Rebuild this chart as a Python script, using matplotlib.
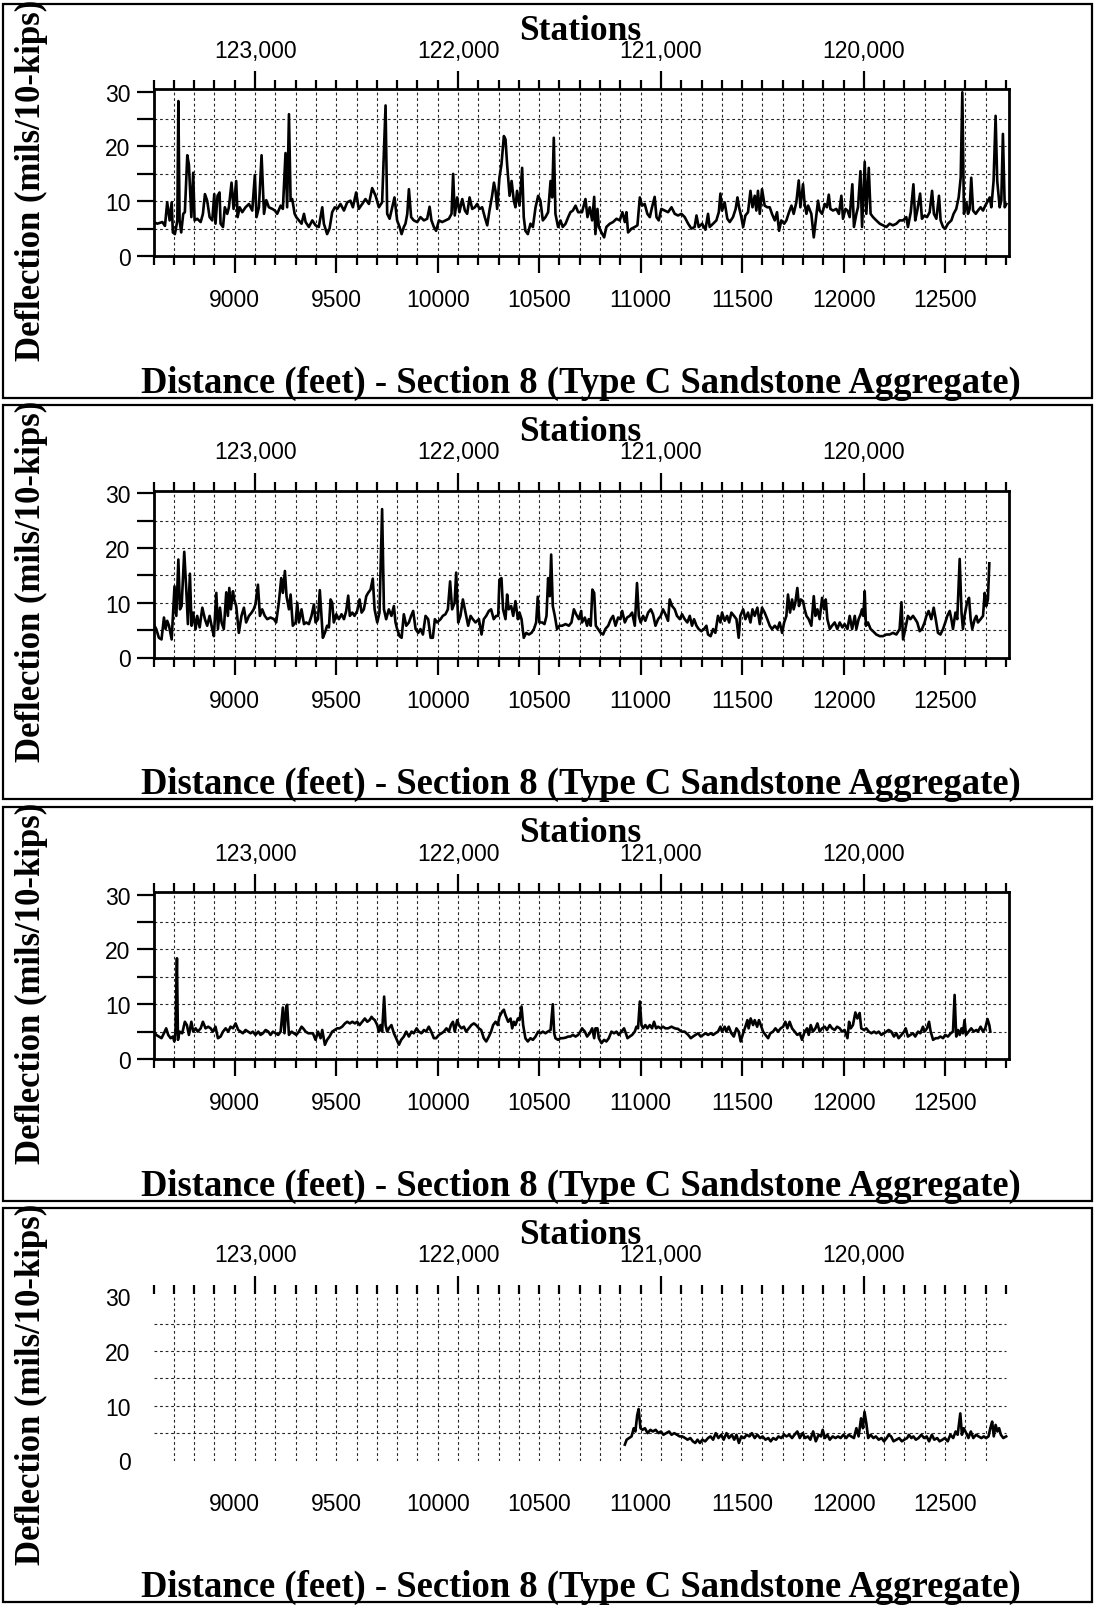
import numpy as np
import matplotlib
matplotlib.use("Agg")
import matplotlib.pyplot as plt
from matplotlib.ticker import MultipleLocator, FuncFormatter
from matplotlib.patches import Rectangle

W, H, DPI = 1094, 1606, 100
STATION_ZERO = 132100          # station = STATION_ZERO - distance
X_MIN, X_MAX = 8600, 12815
Y_MAX = 30.5

# ---- panel 1 ----
dist_1 = [
    8600, 8618, 8643, 8656, 8667, 8679, 8689, 8695, 8705, 8717,
    8722, 8728, 8736, 8746, 8754, 8766, 8774, 8786, 8795, 8802,
    8815, 8832, 8843, 8853, 8864, 8876, 8889, 8899, 8905, 8915,
    8925, 8930, 8942, 8951, 8963, 8971, 8984, 8994, 9007, 9014,
    9024, 9037, 9053, 9070, 9086, 9099, 9107, 9119, 9132, 9144,
    9155, 9168, 9185, 9198, 9209, 9226, 9237, 9250, 9258, 9267,
    9275, 9283, 9295, 9303, 9316, 9329, 9341, 9349, 9365, 9382,
    9398, 9414, 9431, 9439, 9455, 9467, 9480, 9493, 9505, 9521,
    9538, 9554, 9570, 9582, 9598, 9611, 9628, 9644, 9661, 9677,
    9694, 9710, 9726, 9743, 9751, 9763, 9776, 9787, 9800, 9812,
    9822, 9833, 9841, 9850, 9858, 9869, 9882, 9899, 9915, 9932,
    9948, 9960, 9969, 9981, 9992, 10006, 10022, 10038, 10055, 10068,
    10076, 10084, 10096, 10107, 10121, 10134, 10145, 10157, 10170, 10183,
    10194, 10206, 10219, 10232, 10244, 10255, 10268, 10277, 10285, 10293,
    10304, 10314, 10326, 10334, 10342, 10354, 10364, 10375, 10383, 10391,
    10403, 10416, 10424, 10432, 10444, 10457, 10469, 10482, 10495, 10506,
    10518, 10531, 10544, 10556, 10564, 10572, 10580, 10593, 10605, 10616,
    10630, 10643, 10654, 10666, 10679, 10692, 10711,
    10728, 10738, 10749, 10761, 10771, 10777, 10787, 10794, 10807, 10820,
    10831, 10848, 10864, 10881, 10897, 10910, 10922, 10930, 10938, 10955,
    10971, 10984, 10996, 11007, 11020, 11033, 11045, 11056, 11069, 11078,
    11089, 11102, 11119, 11135, 11152, 11168, 11184, 11201, 11217, 11234,
    11250, 11266, 11275, 11286, 11303, 11319, 11332, 11340, 11357, 11373,
    11385, 11393, 11401, 11414, 11427, 11439, 11455, 11468, 11477, 11485,
    11496, 11505, 11516, 11529, 11541, 11551, 11562, 11570, 11578, 11587,
    11598, 11611, 11624, 11636, 11647, 11661, 11672, 11682, 11693, 11707,
    11718, 11731, 11743, 11754, 11767, 11779, 11787, 11800, 11808, 11817,
    11825, 11841, 11853, 11861, 11874, 11882, 11894, 11907, 11918, 11927,
    11935, 11948, 11964, 11977, 11989, 11997, 12009, 12019, 12030, 12043,
    12051, 12063, 12071, 12083, 12091, 12104, 12112, 12124, 12133, 12145,
    12161, 12178, 12194, 12211, 12227, 12243, 12260, 12276, 12293, 12309,
    12317, 12331, 12344, 12353, 12363, 12377, 12386, 12399, 12411, 12424,
    12436, 12445, 12457, 12470, 12478, 12490, 12501, 12514, 12531, 12542,
    12555, 12567, 12577, 12585, 12593, 12605, 12613, 12621, 12629, 12638,
    12651, 12662, 12675, 12687, 12698, 12711, 12720, 12728, 12739, 12749,
    12757, 12769, 12777, 12785, 12794, 12802,
]
defl_1 = [
    6.2, 5.9, 6.2, 5.5, 9.8, 6.5, 9.8, 4.3, 4.0, 6.5,
    28.3, 6.5, 4.3, 7.7, 8.0, 18.4, 16.7, 7.1, 15.2, 6.5,
    6.8, 6.2, 7.7, 11.3, 10.1, 7.1, 6.5, 11.3, 5.9, 11.0,
    11.6, 5.9, 5.3, 8.9, 7.7, 8.9, 13.4, 8.6, 13.7, 7.1,
    8.9, 8.0, 8.9, 9.5, 8.3, 14.8, 7.1, 8.9, 18.4, 7.7,
    10.2, 8.9, 8.6, 8.3, 7.7, 9.2, 8.6, 18.8, 8.9, 25.9,
    10.1, 10.4, 7.7, 7.1, 6.5, 5.9, 7.7, 6.2, 5.3, 6.5,
    5.6, 5.3, 8.9, 5.9, 4.0, 5.0, 8.0, 8.9, 8.6, 9.5,
    8.3, 9.8, 10.1, 8.9, 11.6, 8.6, 9.5, 10.4, 9.5, 12.4,
    11.0, 8.9, 9.8, 27.5, 7.7, 6.8, 8.9, 10.7, 6.5, 5.3,
    4.0, 5.3, 5.9, 7.7, 12.2, 7.1, 6.5, 6.2, 7.1, 6.5,
    6.8, 9.0, 6.5, 5.3, 4.6, 6.5, 6.2, 6.5, 6.8, 7.7,
    15.0, 7.4, 10.7, 8.0, 10.4, 8.3, 7.7, 10.7, 8.6, 8.9,
    9.5, 8.6, 8.9, 7.1, 5.6, 8.3, 11.0, 13.4, 11.9, 8.6,
    14.3, 16.7, 21.9, 21.3, 16.7, 11.0, 13.7, 10.1, 8.9, 11.9,
    9.2, 16.1, 7.1, 4.6, 4.0, 5.9, 5.3, 8.9, 11.0, 10.1,
    6.5, 7.1, 8.0, 13.7, 10.7, 21.6, 7.7, 5.3, 6.5, 5.3,
    5.9, 7.1, 8.0, 8.3, 9.2, 8.0, 8.0,
    10.4, 7.1, 8.9, 6.5, 10.8, 4.0, 8.6, 5.3, 4.3, 3.4,
    5.3, 5.9, 6.2, 6.8, 6.5, 8.0, 6.2, 8.0, 4.3, 5.0,
    5.3, 5.6, 10.7, 9.2, 9.5, 7.7, 7.1, 8.9, 10.8, 7.1,
    6.5, 8.6, 8.3, 8.0, 8.9, 7.7, 7.4, 7.7, 7.1, 5.9,
    5.0, 5.3, 7.4, 5.3, 5.9, 4.8, 7.7, 5.3, 5.9, 6.5,
    8.0, 11.4, 8.3, 9.8, 6.8, 6.2, 7.1, 8.6, 10.7, 8.9,
    7.1, 5.3, 7.4, 8.0, 11.9, 8.9, 11.0, 8.3, 11.9, 7.7,
    12.2, 9.2, 8.9, 8.9, 7.7, 6.5, 8.0, 4.6, 6.5, 5.9,
    6.5, 8.0, 9.2, 7.7, 9.8, 13.8, 8.9, 13.1, 9.5, 7.7,
    9.2, 7.7, 3.4, 5.9, 10.1, 8.3, 7.7, 9.5, 8.9, 11.2,
    8.6, 8.3, 8.6, 7.7, 11.0, 6.8, 8.6, 8.3, 7.1, 13.1,
    5.3, 7.7, 8.9, 15.5, 5.3, 17.2, 7.7, 16.1, 7.7, 7.1,
    6.5, 5.9, 5.6, 5.3, 5.9, 5.6, 5.9, 6.5, 6.5, 7.1,
    5.3, 8.0, 13.1, 6.5, 8.3, 11.4, 6.8, 7.4, 7.1, 8.0,
    11.9, 7.7, 6.8, 11.0, 6.5, 5.3, 5.0, 5.9, 6.5, 7.7,
    8.6, 10.7, 14.3, 29.9, 7.7, 9.8, 7.7, 8.6, 14.3, 8.3,
    7.7, 8.3, 8.9, 8.3, 9.2, 10.1, 10.7, 8.9, 13.7, 25.6,
    13.7, 8.9, 10.1, 22.3, 8.9, 9.5,
]

# ---- panel 2 ----
dist_2 = [
    8600, 8613, 8626, 8639, 8651, 8659, 8667, 8676, 8689, 8695,
    8703, 8712, 8722, 8730, 8738, 8751, 8761, 8769, 8779, 8787,
    8795, 8807, 8815, 8827, 8840, 8853, 8864, 8876, 8889, 8897,
    8909, 8917, 8927, 8935, 8946, 8958, 8966, 8973, 8981, 8991,
    8997, 9007, 9020, 9033, 9045, 9056, 9070, 9083, 9093, 9102,
    9114, 9124, 9135, 9148, 9160, 9176, 9193, 9204, 9217, 9229,
    9237, 9247, 9255, 9267, 9275, 9286, 9300, 9308, 9316, 9329,
    9341, 9352, 9365, 9378, 9390, 9398, 9410, 9419, 9428, 9434,
    9444, 9455, 9464, 9472, 9480, 9488, 9500, 9513, 9526, 9538,
    9549, 9559, 9567, 9579, 9590, 9603, 9615, 9625, 9636, 9648,
    9657, 9669, 9680, 9689, 9702, 9713, 9726, 9735, 9746, 9759,
    9772, 9784, 9792, 9800, 9812, 9822, 9833, 9845, 9858, 9869,
    9879, 9891, 9904, 9915, 9927, 9940, 9953, 9965, 9976, 9986,
    9997, 10014, 10025, 10038, 10050, 10061, 10071, 10083, 10091, 10101,
    10112, 10124, 10137, 10150, 10162, 10173, 10186, 10203, 10216, 10227,
    10239, 10252, 10263, 10276, 10288, 10298, 10304, 10314, 10322, 10334,
    10342, 10350, 10362, 10372, 10383, 10395, 10403, 10413, 10424, 10436,
    10449, 10462, 10474, 10485, 10493, 10501, 10515, 10526, 10536, 10544,
    10552, 10559, 10567, 10577, 10588, 10600, 10613, 10630, 10646, 10659,
    10671, 10682, 10695, 10707,
    10711, 10725, 10736, 10744, 10754, 10762, 10771, 10779, 10790, 10803,
    10815, 10826, 10840, 10853, 10864, 10876, 10889, 10900, 10909, 10922,
    10933, 10946, 10958, 10971, 10982, 10991, 11000, 11012, 11023, 11037,
    11050, 11061, 11073, 11086, 11099, 11110, 11122, 11135, 11143, 11155,
    11168, 11179, 11193, 11204, 11217, 11230, 11242, 11253, 11263, 11275,
    11286, 11299, 11312, 11324, 11332, 11345, 11357, 11368, 11381, 11393,
    11401, 11414, 11426, 11436, 11447, 11460, 11472, 11483, 11491, 11505,
    11516, 11529, 11541, 11551, 11562, 11575, 11587, 11598, 11611, 11624,
    11636, 11647, 11661, 11674, 11685, 11697, 11707, 11718, 11726, 11736,
    11746, 11754, 11762, 11772, 11780, 11789, 11800, 11808, 11817, 11828,
    11841, 11853, 11861, 11871, 11882, 11894, 11904, 11912, 11920, 11932,
    11943, 11956, 11969, 11981, 11994, 12005, 12019, 12030, 12042, 12055,
    12063, 12074, 12084, 12091, 12097, 12104, 12110, 12120, 12133, 12145,
    12161, 12178, 12194, 12211, 12227, 12243, 12260, 12276, 12285, 12293,
    12304, 12317, 12329, 12342, 12353, 12363, 12375, 12386, 12399, 12408,
    12419, 12432, 12444, 12454, 12465, 12477, 12490, 12501, 12511, 12523,
    12531, 12539, 12551, 12560, 12572, 12581, 12588, 12596, 12608, 12618,
    12626, 12634, 12646, 12654, 12662, 12675, 12687, 12695, 12703, 12711,
    12718,
]
defl_2 = [
    6.1, 5.2, 3.6, 3.3, 7.3, 5.2, 6.7, 5.8, 3.3, 7.6,
    13.0, 7.6, 17.9, 8.8, 9.4, 19.3, 12.4, 6.1, 15.3, 5.8,
    8.2, 5.2, 7.6, 5.5, 9.1, 7.0, 5.8, 7.6, 5.2, 3.9,
    11.8, 5.2, 9.1, 6.4, 5.2, 11.9, 7.6, 12.7, 8.8, 12.1,
    10.6, 9.4, 4.5, 7.6, 9.1, 6.4, 7.6, 8.2, 8.8, 9.7,
    13.3, 7.6, 8.8, 7.6, 7.0, 7.3, 7.0, 6.4, 10.0, 14.5,
    11.8, 15.8, 11.2, 8.8, 11.5, 5.8, 6.4, 10.0, 6.4, 8.8,
    6.1, 6.4, 6.1, 7.6, 9.7, 6.4, 7.0, 12.3, 7.0, 3.6,
    4.5, 5.8, 5.5, 10.6, 10.0, 6.4, 7.9, 7.0, 7.9, 7.0,
    8.5, 11.3, 7.6, 8.2, 7.6, 8.5, 10.6, 8.2, 8.8, 11.2,
    11.8, 12.4, 14.4, 8.8, 6.4, 8.2, 27.1, 8.8, 7.0, 8.8,
    7.6, 9.4, 6.4, 5.2, 3.9, 3.6, 7.9, 5.8, 6.4, 7.6,
    8.5, 5.2, 4.5, 5.2, 4.2, 7.6, 7.0, 3.6, 3.6, 7.0,
    6.4, 7.0, 7.6, 7.9, 8.8, 13.9, 8.8, 10.0, 15.5, 6.4,
    7.6, 10.6, 8.2, 5.8, 7.6, 7.0, 6.4, 7.0, 4.2, 7.0,
    7.6, 8.5, 8.8, 7.0, 7.6, 7.6, 14.2, 14.5, 8.8, 7.0,
    11.5, 8.8, 9.4, 7.6, 10.3, 7.0, 8.2, 7.0, 3.6, 4.5,
    4.2, 4.5, 5.2, 6.4, 11.1, 6.4, 6.4, 6.1, 7.6, 14.5,
    11.2, 18.8, 9.4, 7.6, 5.2, 5.8, 5.8, 6.1, 5.8, 6.4,
    8.8, 7.9, 7.0, 8.5,
    6.4, 7.3, 5.8, 7.0, 5.8, 12.4, 11.8, 5.8, 5.2, 4.5,
    4.2, 5.2, 5.8, 7.0, 7.6, 5.8, 7.3, 7.0, 8.5, 6.4,
    7.3, 7.6, 8.2, 5.8, 13.6, 7.6, 6.4, 7.6, 6.7, 8.2,
    8.8, 7.9, 5.8, 7.0, 7.6, 8.8, 7.9, 6.7, 10.6, 9.4,
    8.8, 7.6, 7.0, 7.9, 7.0, 6.4, 7.6, 5.8, 7.0, 5.8,
    5.2, 4.8, 5.2, 5.8, 4.2, 3.9, 5.2, 4.5, 7.6, 6.4,
    8.2, 6.7, 7.6, 6.4, 8.2, 7.6, 7.0, 3.6, 7.6, 8.8,
    7.0, 8.2, 6.4, 8.8, 7.6, 9.1, 6.1, 9.1, 8.2, 7.0,
    5.8, 5.2, 5.8, 5.2, 6.4, 4.5, 6.4, 7.6, 11.5, 8.2,
    10.6, 8.8, 10.0, 12.7, 9.4, 10.6, 10.3, 8.8, 7.6, 7.0,
    5.8, 11.2, 7.6, 8.8, 7.0, 10.9, 8.8, 10.6, 7.0, 5.2,
    5.8, 6.4, 5.2, 6.4, 5.5, 6.1, 5.2, 7.6, 5.2, 7.6,
    5.2, 7.0, 7.9, 8.8, 7.6, 12.1, 5.8, 6.4, 5.2, 4.8,
    4.2, 3.9, 3.9, 4.2, 4.2, 4.5, 4.2, 5.2, 10.1, 3.3,
    5.2, 7.6, 7.0, 7.6, 7.0, 6.4, 4.8, 5.2, 6.4, 7.6,
    8.5, 7.0, 9.1, 7.0, 4.5, 4.2, 5.2, 6.4, 7.6, 8.5,
    7.0, 5.2, 8.2, 7.0, 18.0, 8.2, 5.2, 7.6, 10.0, 10.9,
    7.0, 5.2, 7.0, 7.6, 6.4, 7.0, 7.6, 11.8, 9.4, 10.6,
    17.2,
]

# ---- panel 3 ----
dist_3 = [
    8600, 8613, 8626, 8639, 8651, 8662, 8672, 8684, 8695, 8702,
    8708, 8715, 8720, 8728, 8741, 8754, 8764, 8774, 8786, 8795,
    8807, 8818, 8832, 8843, 8856, 8869, 8881, 8892, 8905, 8917,
    8930, 8942, 8955, 8968, 8979, 8991, 9004, 9017, 9029, 9040,
    9053, 9066, 9078, 9089, 9102, 9116, 9127, 9139, 9152, 9165,
    9176, 9188, 9201, 9214, 9226, 9237, 9245, 9254, 9258, 9267,
    9280, 9291, 9303, 9316, 9329, 9337, 9349, 9362, 9373, 9385,
    9398, 9410, 9423, 9431, 9444, 9455, 9467, 9480, 9493, 9505,
    9516, 9529, 9543, 9554, 9567, 9579, 9592, 9603, 9615, 9628,
    9641, 9653, 9664, 9674, 9680, 9690, 9702, 9710, 9718, 9726,
    9736, 9743, 9751, 9759, 9772, 9784, 9795, 9809, 9820, 9833,
    9845, 9858, 9871, 9882, 9896, 9907, 9920, 9932, 9943, 9956,
    9968, 9981, 9992, 10006, 10019, 10030, 10043, 10055, 10065, 10075,
    10084, 10096, 10104, 10117, 10129, 10140, 10153, 10166, 10178, 10189,
    10203, 10214, 10227, 10239, 10252, 10263, 10273, 10285, 10296, 10304,
    10318, 10326, 10334, 10347, 10359, 10367, 10375, 10383, 10395, 10403,
    10413, 10421, 10432, 10444, 10457, 10469, 10482, 10495, 10506, 10518,
    10531, 10542, 10556, 10567, 10574, 10580, 10593, 10605, 10616, 10630,
    10643, 10654, 10666, 10679, 10692, 10703,
    10711, 10725, 10736, 10749, 10761, 10771, 10777, 10787, 10794, 10807,
    10820, 10831, 10843, 10856, 10869, 10881, 10892, 10905, 10918, 10927,
    10935, 10946, 10958, 10971, 10979, 10987, 10996, 11004, 11012, 11023,
    11033, 11045, 11056, 11066, 11076, 11086, 11099, 11110, 11122, 11135,
    11152, 11168, 11184, 11201, 11217, 11234, 11247, 11258, 11270, 11283,
    11296, 11308, 11319, 11332, 11345, 11357, 11368, 11381, 11393, 11401,
    11414, 11422, 11434, 11447, 11459, 11472, 11483, 11493, 11505, 11516,
    11526, 11532, 11542, 11554, 11562, 11574, 11583, 11592, 11603, 11615,
    11628, 11639, 11652, 11664, 11677, 11690, 11702, 11713, 11723, 11734,
    11746, 11759, 11772, 11784, 11795, 11808, 11820, 11828, 11838, 11849,
    11861, 11871, 11882, 11894, 11907, 11918, 11932, 11943, 11956, 11968,
    11981, 11992, 12005, 12019, 12027, 12035, 12046, 12058, 12068, 12079,
    12087, 12101, 12112, 12124, 12137, 12150, 12161, 12173, 12186, 12199,
    12211, 12222, 12235, 12248, 12260, 12271, 12285, 12298, 12306, 12317,
    12330, 12342, 12353, 12367, 12378, 12391, 12399, 12411, 12421, 12429,
    12441, 12454, 12465, 12477, 12490, 12501, 12514, 12528, 12539, 12547,
    12555, 12564, 12572, 12581, 12588, 12596, 12603, 12616, 12629, 12641,
    12654, 12662, 12675, 12687, 12698, 12709, 12718, 12723,
]
defl_3 = [
    5.0, 4.4, 4.1, 3.8, 4.7, 5.6, 4.4, 3.8, 4.1, 3.2,
    5.0, 18.4, 3.5, 5.0, 4.7, 6.8, 6.2, 4.4, 6.8, 5.0,
    5.6, 5.0, 5.6, 6.8, 5.6, 5.9, 5.6, 5.0, 5.9, 3.8,
    4.1, 5.0, 5.6, 5.0, 5.9, 5.6, 6.5, 5.3, 5.0, 4.7,
    5.3, 5.0, 4.7, 5.0, 4.4, 5.0, 4.4, 4.7, 5.3, 5.0,
    4.4, 5.0, 4.7, 4.4, 5.0, 9.4, 4.7, 9.6, 9.9, 4.4,
    5.0, 4.7, 4.4, 5.0, 5.9, 5.6, 5.0, 4.7, 4.7, 4.7,
    3.5, 5.0, 3.8, 5.3, 2.6, 3.5, 4.1, 5.0, 5.3, 5.6,
    5.6, 5.9, 6.5, 6.8, 6.5, 6.8, 6.5, 6.8, 6.2, 6.8,
    7.4, 6.8, 7.1, 7.7, 7.4, 7.1, 6.2, 5.0, 6.2, 5.0,
    11.4, 6.2, 5.0, 5.6, 6.2, 4.7, 3.8, 2.6, 3.5, 4.1,
    5.0, 4.1, 5.0, 4.7, 5.6, 5.0, 4.7, 5.3, 5.0, 5.9,
    5.0, 3.8, 3.8, 4.4, 4.7, 5.0, 5.6, 5.0, 6.2, 6.8,
    5.0, 7.1, 6.2, 5.6, 5.9, 5.0, 5.6, 6.2, 6.5, 6.2,
    5.6, 5.3, 3.8, 3.2, 4.1, 5.0, 6.2, 6.8, 6.2, 7.7,
    8.7, 9.0, 8.0, 6.8, 7.4, 5.6, 6.8, 6.2, 7.4, 7.1,
    9.6, 6.2, 3.8, 3.2, 3.8, 3.5, 4.1, 5.0, 4.7, 5.0,
    4.7, 5.0, 5.3, 10.0, 4.7, 3.8, 3.5, 3.8, 3.8, 3.9,
    4.1, 4.1, 4.4, 4.1, 4.4, 5.0,
    5.6, 5.0, 4.1, 4.7, 5.6, 3.8, 5.6, 5.6, 3.8, 2.9,
    3.5, 3.2, 3.8, 5.0, 4.7, 5.0, 4.4, 5.0, 5.6, 4.7,
    3.8, 4.1, 4.4, 5.0, 5.9, 5.6, 10.5, 6.2, 5.6, 6.2,
    5.6, 6.2, 5.6, 6.8, 5.6, 5.9, 5.6, 5.9, 5.6, 5.6,
    5.9, 5.6, 5.5, 5.0, 5.0, 4.4, 3.8, 4.1, 4.4, 4.7,
    4.1, 4.4, 4.7, 4.4, 4.7, 4.4, 4.7, 5.0, 5.9, 5.0,
    5.9, 5.0, 5.9, 4.7, 4.1, 5.6, 5.0, 3.2, 4.7, 5.9,
    7.1, 5.6, 7.4, 6.2, 7.1, 5.9, 7.1, 6.2, 5.0, 4.4,
    3.8, 4.7, 5.0, 5.6, 5.0, 5.6, 5.9, 6.8, 5.6, 6.8,
    5.6, 5.0, 4.4, 4.7, 3.5, 5.0, 5.6, 4.4, 6.2, 5.0,
    5.6, 6.5, 5.0, 5.6, 5.9, 5.3, 6.2, 5.6, 5.3, 5.9,
    5.6, 5.0, 5.3, 3.8, 6.8, 5.6, 6.2, 8.5, 7.4, 8.4,
    5.6, 5.3, 5.6, 5.0, 4.7, 5.0, 4.7, 5.0, 4.4, 4.7,
    5.0, 5.3, 5.0, 4.1, 4.7, 3.8, 4.4, 5.0, 5.6, 4.1,
    4.4, 4.7, 4.1, 5.0, 4.7, 5.9, 5.0, 5.6, 6.8, 5.0,
    3.5, 3.8, 3.8, 4.1, 3.8, 4.4, 4.1, 4.7, 5.0, 11.7,
    4.1, 5.3, 4.4, 5.6, 4.7, 7.1, 4.4, 5.0, 5.6, 5.0,
    5.3, 5.0, 5.9, 5.0, 5.6, 7.3, 6.2, 5.0,
]

# ---- panel 4 ----
dist_4 = [
    10922, 10931, 10943, 10955, 10966, 10974, 10983, 10990, 10999, 11009,
    11021, 11034, 11048, 11060, 11074, 11088, 11100, 11112, 11126, 11140,
    11152, 11166, 11179, 11192, 11205, 11219, 11231, 11245, 11257, 11269,
    11280, 11292, 11304, 11318, 11332, 11344, 11357, 11370, 11383, 11397,
    11409, 11423, 11435, 11449, 11461, 11472, 11484, 11496, 11510, 11522,
    11536, 11548, 11562, 11575, 11589, 11601, 11615, 11629, 11641, 11653,
    11667, 11679, 11693, 11706, 11719, 11732, 11746, 11758, 11772, 11784,
    11798, 11810, 11824, 11836, 11850, 11863, 11877, 11889, 11897, 11908,
    11920, 11932, 11946, 11960, 11973, 11985, 11999, 12013, 12025, 12037,
    12051, 12063, 12074, 12086, 12095, 12103, 12112, 12121, 12133, 12147,
    12159, 12173, 12187, 12199, 12212, 12222, 12234, 12246, 12260, 12274,
    12287, 12299, 12313, 12322, 12334, 12344, 12356, 12369, 12383, 12397,
    12409, 12421, 12435, 12447, 12461, 12473, 12487, 12499, 12513, 12526,
    12540, 12552, 12562, 12575, 12583, 12592, 12604, 12615, 12627, 12639,
    12653, 12665, 12679, 12691, 12702, 12714, 12723, 12732, 12740, 12749,
    12758, 12766, 12775, 12787, 12801,
]
defl_4 = [
    2.9, 3.8, 4.1, 4.4, 5.9, 5.3, 8.3, 9.4, 5.9, 5.6,
    5.9, 5.0, 5.6, 5.3, 5.6, 5.0, 5.3, 4.7, 5.0, 5.3,
    4.7, 5.0, 4.7, 4.4, 4.4, 4.1, 3.8, 4.1, 3.5, 3.2,
    3.8, 3.2, 3.8, 3.5, 4.1, 4.4, 3.8, 5.0, 4.1, 4.7,
    3.8, 5.0, 4.1, 4.7, 3.8, 4.7, 3.2, 4.4, 4.1, 4.7,
    4.4, 5.0, 4.1, 4.7, 4.1, 4.4, 3.8, 4.1, 3.5, 4.1,
    3.8, 4.4, 4.1, 4.7, 4.4, 4.7, 4.1, 4.7, 5.3, 4.1,
    5.0, 4.1, 4.4, 3.8, 5.3, 3.5, 4.7, 4.4, 5.6, 4.1,
    4.7, 3.8, 4.4, 4.1, 4.4, 4.1, 4.7, 4.1, 4.7, 4.4,
    4.1, 5.9, 4.4, 7.7, 5.9, 8.9, 6.8, 4.1, 4.7, 4.1,
    4.4, 3.8, 4.1, 3.5, 4.1, 4.7, 4.4, 3.5, 3.8, 4.1,
    3.5, 3.8, 4.1, 4.7, 4.1, 4.4, 3.8, 4.1, 4.7, 4.1,
    4.4, 3.5, 4.7, 3.8, 4.1, 3.5, 3.8, 4.1, 3.5, 4.7,
    4.1, 5.3, 4.7, 8.6, 4.7, 5.9, 5.0, 4.1, 5.3, 4.1,
    4.7, 4.4, 4.1, 4.4, 4.1, 4.4, 5.9, 7.1, 4.4, 6.5,
    5.3, 5.9, 4.7, 4.1, 4.4,
]

panels = [(dist_1, defl_1), (dist_2, defl_2), (dist_3, defl_3), (dist_4, defl_4)]
framed = [True, True, True, False]

plt.rcParams["font.family"] = ["Liberation Sans", "DejaVu Sans"]
serif = dict(family=["Liberation Serif", "DejaVu Serif"], weight="bold")
grid_style = dict(color="0.15", lw=0.8, ls=(0, (2.5, 2.5)), zorder=1)

fig = plt.figure(figsize=(W / DPI, H / DPI), dpi=DPI)
PANEL_H = H / 4
AX_L, AX_R = 153.6, 1009.0
AX_T, AX_B = 90.0, 257.0

for k, ((dist, defl), boxed) in enumerate(zip(panels, framed)):
    off = k * PANEL_H

    # panel frame
    fig.patches.append(Rectangle((2.5 / W, 1 - (off + 398.5) / H), 1089 / W, 394 / H,
                                 transform=fig.transFigure, fill=False,
                                 ec="black", lw=1.6))

    ax = fig.add_axes([AX_L / W, 1 - (off + AX_B) / H,
                       (AX_R - AX_L) / W, (AX_B - AX_T) / H])
    ax.set_xlim(X_MIN, X_MAX)
    ax.set_ylim(0, Y_MAX)

    ax.vlines(np.arange(X_MIN + 100, 12800, 100), 0, 30, **grid_style)
    ax.hlines(np.arange(5, 30, 5), X_MIN, 12800, **grid_style)
    ax.plot(dist, defl, color="black", lw=1.9, zorder=3)

    ax.xaxis.set_major_locator(MultipleLocator(500))
    ax.xaxis.set_minor_locator(MultipleLocator(100))
    ax.yaxis.set_major_locator(MultipleLocator(10))
    ax.yaxis.set_minor_locator(MultipleLocator(5))
    ax.tick_params(which="both", direction="out", width=1.6, labelsize=16.5)
    ax.tick_params(axis="x", which="major", length=12.5, pad=10.5)
    ax.tick_params(axis="x", which="minor", length=6.5)
    ax.tick_params(axis="y", which="both", length=12.5, pad=4)
    for s in ax.spines.values():
        s.set_linewidth(2.0)

    top = ax.twiny()
    top.set_xlim(STATION_ZERO - X_MIN, STATION_ZERO - X_MAX)
    top.xaxis.set_major_locator(MultipleLocator(1000))
    top.xaxis.set_minor_locator(MultipleLocator(100))
    top.xaxis.set_major_formatter(FuncFormatter(lambda s, _: f"{s:,.0f}"))
    top.tick_params(which="both", direction="out", width=1.6, labelsize=16.5)
    top.tick_params(which="major", length=13, pad=6.5)
    top.tick_params(which="minor", length=6.5)
    for s in top.spines.values():
        s.set_visible(False)

    if not boxed:
        for s in ax.spines.values():
            s.set_visible(False)
        ax.tick_params(which="both", color=(0, 0, 0, 0))

    fig.text(580 / W, 1 - (off + 31) / H, "Stations", ha="center", va="center",
             fontsize=25.5, **serif)
    fig.text(581 / W, 1 - (off + 383) / H,
             "Distance (feet) - Section 8 (Type C Sandstone Aggregate)",
             ha="center", va="center", fontsize=26.4, **serif)
    fig.text(31.5 / W, 1 - (off + 361) / H, "Deflection (mils/10-kips)",
             rotation=90, ha="center", va="bottom", fontsize=25, **serif)

fig.savefig("out.png", dpi=DPI)
